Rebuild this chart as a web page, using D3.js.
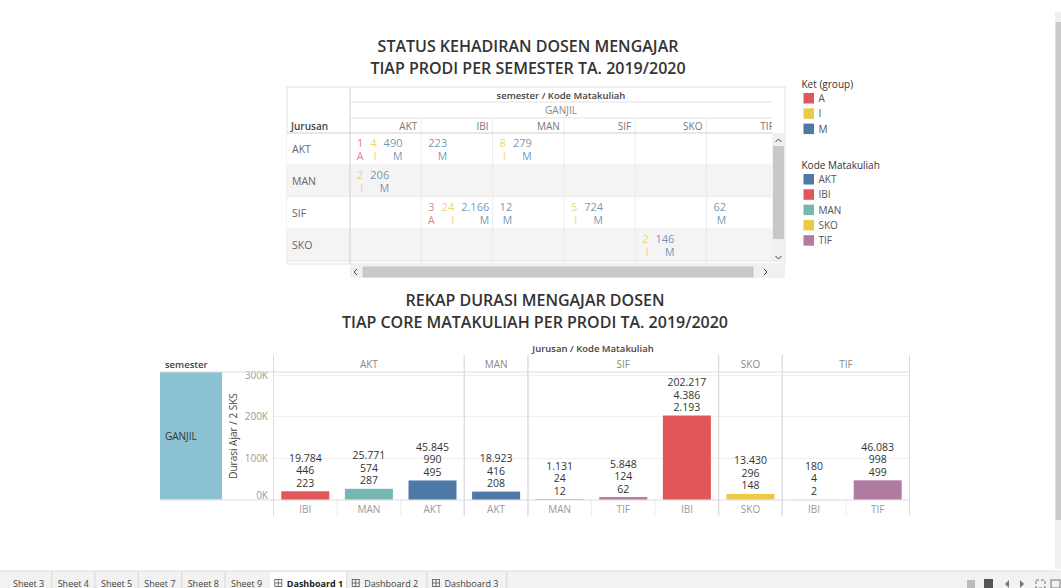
<!DOCTYPE html>
<html>
<head>
<meta charset="utf-8">
<script src="https://cdn.jsdelivr.net/npm/d3@7"></script>
<style>
  body { margin: 0; background: #fff; }
  svg { display: block; font-family: "Open Sans", "Noto Sans", sans-serif; }
</style>
</head>
<body>
<div id="dash"></div>
<script>
// ---- crosstab: status kehadiran ----
var rowJurusan = ["AKT", "MAN", "SIF", "SKO"];
var colKode = ["AKT", "IBI", "MAN", "SIF", "SKO", "TIF"];
var ketGroups = ["A", "I", "M"];
var hadirJurusan = ["AKT","AKT","AKT","AKT","AKT","AKT","MAN","MAN","SIF","SIF","SIF","SIF","SIF","SIF","SIF","SKO","SKO"];
var hadirKode    = ["AKT","AKT","AKT","IBI","MAN","MAN","AKT","AKT","IBI","IBI","IBI","MAN","SIF","SIF","TIF","SKO","SKO"];
var hadirKet     = ["A","I","M","M","I","M","I","M","A","I","M","M","I","M","M","I","M"];
var hadirJumlah  = [1,4,490,223,8,279,2,206,3,24,2166,12,5,724,62,2,146];

// ---- bar chart: rekap durasi ----
var barJurusan = ["AKT","AKT","AKT","MAN","SIF","SIF","SIF","SKO","TIF","TIF"];
var barKode    = ["IBI","MAN","AKT","AKT","MAN","TIF","IBI","SKO","IBI","TIF"];
var durasiAjar = [19784,25771,45845,18923,1131,5848,202217,13430,180,46083];
var jumlahSks  = [446,574,990,416,24,124,4386,296,4,998];
var jumlahTemu = [223,287,495,208,12,62,2193,148,2,499];
var yTicks = [0, 100000, 200000, 300000];
var kodeList = ["AKT", "IBI", "MAN", "SKO", "TIF"];

var sheetTabs = ["Sheet 3","Sheet 4","Sheet 5","Sheet 7","Sheet 8","Sheet 9","Dashboard 1","Dashboard 2","Dashboard 3"];

var ketColor = d3.scaleOrdinal().domain(ketGroups).range(["#E15759", "#EDC948", "#4E79A7"]);
var kodeColor = d3.scaleOrdinal().domain(kodeList).range(["#4E79A7", "#E15759", "#76B7B2", "#EDC948", "#B07AA1"]);
var idFormat = d3.formatLocale({decimal: ",", thousands: ".", grouping: [3], currency: ["Rp", ""]}).format(",d");

var W = 1061, H = 588;
var svg = d3.select("#dash").append("svg").attr("width", W).attr("height", H);

// titles
function title(lines, cx, y0) {
  lines.forEach(function(t, i) {
    svg.append("text").attr("x", cx).attr("y", y0 + i * 22)
      .attr("text-anchor", "middle").attr("font-size", 16).attr("font-weight", 600).attr("fill", "#333").text(t);
  });
}
title(["STATUS KEHADIRAN DOSEN MENGAJAR", "TIAP PRODI PER SEMESTER TA. 2019/2020"], 528, 52);
title(["REKAP DURASI MENGAJAR DOSEN", "TIAP CORE MATAKULIAH PER PRODI TA. 2019/2020"], 535, 306);

// ================= crosstab =================
var ct = svg.append("g");
var ctLeft = 287, ctRight = 785, ctTop = 87, ctBottom = 264;
var bodyLeft = 350, bodyRight = 772, bodyTop = 133;
var colX = d3.scaleBand().domain(colKode).range([350, 350 + 71.3 * 6]);
var rowY = d3.scaleBand().domain(rowJurusan).range([bodyTop, bodyTop + 32 * 4]);

var clip = svg.append("clipPath").attr("id", "ctclip");
clip.append("rect").attr("x", bodyLeft).attr("y", ctTop).attr("width", bodyRight - bodyLeft).attr("height", ctBottom - ctTop);

ct.append("rect").attr("x", ctLeft).attr("y", ctTop).attr("width", ctRight - ctLeft).attr("height", ctBottom - ctTop)
  .attr("fill", "#fff").attr("stroke", "#e2e2e2");

// row bands
rowJurusan.forEach(function(r, i) {
  ct.append("rect").attr("x", ctLeft).attr("y", rowY(r)).attr("width", bodyRight - ctLeft).attr("height", rowY.bandwidth())
    .attr("fill", i % 2 ? "#f4f4f4" : "#fff");
  ct.append("line").attr("x1", ctLeft).attr("x2", bodyRight).attr("y1", rowY(r) + rowY.bandwidth()).attr("y2", rowY(r) + rowY.bandwidth())
    .attr("stroke", "#e6e6e6");
  ct.append("text").attr("x", ctLeft + 5).attr("y", rowY(r) + rowY.bandwidth() / 2 + 4)
    .attr("font-size", 10.5).attr("fill", "#666").text(r);
});

var ctBody = ct.append("g").attr("clip-path", "url(#ctclip)");
colKode.forEach(function(c) {
  ctBody.append("line").attr("x1", colX(c) + colX.bandwidth()).attr("x2", colX(c) + colX.bandwidth())
    .attr("y1", 118).attr("y2", ctBottom).attr("stroke", "#ececec");
  ctBody.append("text").attr("x", colX(c) + colX.bandwidth() - 4).attr("y", 129.5)
    .attr("text-anchor", "end").attr("font-size", 10).attr("fill", "#777").text(c);
});

// header lines
ct.append("line").attr("x1", bodyLeft).attr("x2", bodyRight).attr("y1", 102).attr("y2", 102).attr("stroke", "#e2e2e2");
ct.append("line").attr("x1", bodyLeft).attr("x2", bodyRight).attr("y1", 118).attr("y2", 118).attr("stroke", "#e2e2e2");
ct.append("line").attr("x1", ctLeft).attr("x2", bodyRight).attr("y1", bodyTop).attr("y2", bodyTop).attr("stroke", "#d0d0d0");
ct.append("line").attr("x1", bodyLeft).attr("x2", bodyLeft).attr("y1", ctTop).attr("y2", ctBottom).attr("stroke", "#d0d0d0");

ct.append("text").attr("x", 561).attr("y", 98.5).attr("text-anchor", "middle")
  .attr("font-size", 9.5).attr("font-weight", 600).attr("fill", "#444").text("semester / Kode Matakuliah");
ct.append("text").attr("x", 561).attr("y", 114).attr("text-anchor", "middle")
  .attr("font-size", 10).attr("fill", "#888").text("GANJIL");
ct.append("text").attr("x", ctLeft + 4).attr("y", 129.5)
  .attr("font-size", 10).attr("font-weight", 600).attr("fill", "#444").text("Jurusan");

// cell marks: number on top, ket letter below, flowing left to right
var cells = d3.groups(d3.range(hadirJumlah.length), function(i) { return hadirJurusan[i] + "|" + hadirKode[i]; });
cells.forEach(function(cell) {
  var idx = cell[1];
  var r = hadirJurusan[idx[0]], c = hadirKode[idx[0]];
  var x = colX(c) + 7;
  idx.forEach(function(i) {
    var col = ketColor(hadirKet[i]);
    var num = ctBody.append("text").attr("x", x).attr("y", rowY(r) + 14)
      .attr("font-size", 11).attr("fill", col).attr("fill-opacity", 0.8).text(idFormat(hadirJumlah[i]));
    var w = num.node().getComputedTextLength();
    ctBody.append("text").attr("x", x + w).attr("y", rowY(r) + 26.5).attr("text-anchor", "end")
      .attr("font-size", 10.5).attr("fill", col).attr("fill-opacity", 0.8).text(hadirKet[i]);
    x += w + 7;
  });
});

// crosstab scrollbars
ct.append("rect").attr("x", 772).attr("y", bodyTop).attr("width", 13).attr("height", 129).attr("fill", "#f0f0f0");
ct.append("rect").attr("x", 773).attr("y", 146).attr("width", 11).attr("height", 93).attr("fill", "#c8c8c8");
ct.append("path").attr("d", "M775.5,142 L778.5,139 L781.5,142").attr("fill", "none").attr("stroke", "#444");
ct.append("path").attr("d", "M775.5,256 L778.5,259 L781.5,256").attr("fill", "none").attr("stroke", "#444");
ct.append("rect").attr("x", bodyLeft).attr("y", 265).attr("width", 435).attr("height", 13).attr("fill", "#f0f0f0");
ct.append("rect").attr("x", 362.5).attr("y", 266.5).attr("width", 391).attr("height", 11).attr("fill", "#c8c8c8");
ct.append("path").attr("d", "M357,269 L354,272 L357,275").attr("fill", "none").attr("stroke", "#444");
ct.append("path").attr("d", "M764,269 L767,272 L764,275").attr("fill", "none").attr("stroke", "#444");

// ================= legends =================
function legend(titleText, keys, scale, x, y) {
  var g = svg.append("g").attr("transform", "translate(" + x + "," + y + ")");
  g.append("text").attr("x", 0).attr("y", 0).attr("font-size", 10).attr("fill", "#333").text(titleText);
  keys.forEach(function(k, i) {
    g.append("rect").attr("x", 2).attr("y", 5 + i * 15.3).attr("width", 10.5).attr("height", 10.5).attr("fill", scale(k));
    g.append("text").attr("x", 17).attr("y", 14 + i * 15.3).attr("font-size", 10).attr("fill", "#555").text(k);
  });
}
legend("Ket (group)", ketGroups, ketColor, 801.5, 88);
legend("Kode Matakuliah", kodeList, kodeColor, 801.5, 169);

// ================= bar chart =================
var keys = d3.range(durasiAjar.length).map(function(i) { return barJurusan[i] + "/" + barKode[i]; });
var x = d3.scaleBand().domain(keys).range([273.5, 909.5]).paddingInner(0.245).paddingOuter(0.1225);
var y = d3.scaleLinear().domain([0, 307000]).range([499.5, 372]);
var bc = svg.append("g");

bc.append("text").attr("x", 593).attr("y", 352).attr("text-anchor", "middle")
  .attr("font-size", 9.5).attr("font-weight", 600).attr("fill", "#444").text("Jurusan / Kode Matakuliah");
bc.append("text").attr("x", 165).attr("y", 367.5)
  .attr("font-size", 9.5).attr("font-weight", 600).attr("fill", "#444").text("semester");

// semester cell
bc.append("rect").attr("x", 160).attr("y", 372).attr("width", 62).attr("height", 127.5).attr("fill", "#8CC3D3");
bc.append("text").attr("x", 165).attr("y", 440).attr("font-size", 10).attr("fill", "#333").text("GANJIL");

// gridlines
bc.append("g").selectAll("line").data(yTicks.slice(1)).join("line")
  .attr("x1", 273.5).attr("x2", 909.5).attr("y1", function(d) { return Math.round(y(d)) + 0.5; })
  .attr("y2", function(d) { return Math.round(y(d)) + 0.5; }).attr("stroke", "#efefef");

// y axis
var yAxis = bc.append("g").attr("transform", "translate(270,0)")
  .call(d3.axisLeft(y).tickValues(yTicks).tickSize(0).tickPadding(2).tickFormat(function(d) { return d / 1000 + "K"; }));
yAxis.select(".domain").remove();
yAxis.selectAll("text").attr("font-size", 10).attr("fill", "#999").attr("font-family", "Open Sans, sans-serif");
yAxis.selectAll(".tick").filter(function(d) { return d === 0; }).select("text").attr("dy", "-0.15em");
bc.append("text").attr("transform", "translate(237,436) rotate(-90)").attr("text-anchor", "middle")
  .attr("font-size", 10).attr("fill", "#444").text("Durasi Ajar / 2 SKS");

// panel dividers by jurusan
var panels = d3.groups(d3.range(keys.length), function(i) { return barJurusan[i]; });
panels.forEach(function(p) {
  var first = keys[p[1][0]], last = keys[p[1][p[1].length - 1]];
  var x0 = x(first) - x.step() * x.paddingInner() / 2;
  var x1 = x(last) + x.bandwidth() + x.step() * x.paddingInner() / 2;
  bc.append("text").attr("x", (x0 + x1) / 2).attr("y", 367.5).attr("text-anchor", "middle")
    .attr("font-size", 10).attr("fill", "#888").text(p[0]);
  [x0, x1].forEach(function(v) {
    bc.append("line").attr("x1", v).attr("x2", v).attr("y1", 355).attr("y2", 516).attr("stroke", "#dcdcdc");
  });
  p[1].slice(1).forEach(function(i) {
    var v = x(keys[i]) - x.step() * x.paddingInner() / 2;
    bc.append("line").attr("x1", v).attr("x2", v).attr("y1", 500).attr("y2", 516).attr("stroke", "#f0f0f0");
  });
});

bc.append("line").attr("x1", 160).attr("x2", 910).attr("y1", 372).attr("y2", 372).attr("stroke", "#dcdcdc");
bc.append("line").attr("x1", 160).attr("x2", 910).attr("y1", 500).attr("y2", 500).attr("stroke", "#dcdcdc");

// bars
bc.append("g").selectAll("rect").data(keys).join("rect")
  .attr("x", function(d) { return x(d); })
  .attr("width", x.bandwidth())
  .attr("y", function(d, i) { return y(durasiAjar[i]); })
  .attr("height", function(d, i) { return y(0) - y(durasiAjar[i]); })
  .attr("fill", function(d, i) { return kodeColor(barKode[i]); });

// bar labels
keys.forEach(function(k, i) {
  var cx = x(k) + x.bandwidth() / 2, top = y(durasiAjar[i]);
  [durasiAjar[i], jumlahSks[i], jumlahTemu[i]].forEach(function(v, j) {
    bc.append("text").attr("x", cx).attr("y", top - 4.5 - (2 - j) * 12.5).attr("text-anchor", "middle")
      .attr("font-size", 10.5).attr("fill", "#333").text(idFormat(v));
  });
  bc.append("text").attr("x", cx).attr("y", 513).attr("text-anchor", "middle")
    .attr("font-size", 10).attr("fill", "#999").text(barKode[i]);
});

// ================= page chrome =================
svg.append("rect").attr("x", 1055).attr("y", 12).attr("width", 6).attr("height", 557).attr("fill", "#f0f0f0");
svg.append("rect").attr("x", 1055.5).attr("y", 22).attr("width", 5.5).attr("height", 498).attr("fill", "#cbcbcb");

var tabs = svg.append("g");
tabs.append("rect").attr("x", 0).attr("y", 571).attr("width", W).attr("height", 17).attr("fill", "#f2f2f2");
tabs.append("line").attr("x1", 0).attr("x2", W).attr("y1", 571).attr("y2", 571).attr("stroke", "#dedede");
var tabEdges = [7, 51.7, 95, 138.3, 181.7, 225, 269.3, 346.7, 427, 506.7];
sheetTabs.forEach(function(t, i) {
  var x0 = tabEdges[i], x1 = tabEdges[i + 1];
  var isDash = t.indexOf("Dashboard") === 0, active = t === "Dashboard 1";
  if (active) tabs.append("rect").attr("x", x0).attr("y", 572).attr("width", x1 - x0).attr("height", 16).attr("fill", "#fff");
  tabs.append("line").attr("x1", x1).attr("x2", x1).attr("y1", 572).attr("y2", 588).attr("stroke", "#d6d6d6");
  var tx = x0 + 6;
  if (isDash) {
    var ic = tabs.append("g").attr("transform", "translate(" + (x0 + 5.5) + ",579.5)");
    ic.append("rect").attr("width", 7).attr("height", 7).attr("fill", "none").attr("stroke", "#555").attr("stroke-width", 0.8);
    ic.append("line").attr("x1", 3.5).attr("x2", 3.5).attr("y1", 0).attr("y2", 7).attr("stroke", "#555").attr("stroke-width", 0.8);
    ic.append("line").attr("x1", 0).attr("x2", 7).attr("y1", 3.5).attr("y2", 3.5).attr("stroke", "#555").attr("stroke-width", 0.8);
    tx = x0 + 17.5;
  }
  tabs.append("text").attr("x", tx).attr("y", 586.5).attr("font-size", 9)
    .attr("font-weight", active ? "bold" : "normal").attr("fill", active ? "#222" : "#444").text(t);
});
tabs.append("rect").attr("x", 967).attr("y", 580).attr("width", 8).attr("height", 8).attr("fill", "#bbb");
tabs.append("rect").attr("x", 984).attr("y", 579).attr("width", 9).attr("height", 9).attr("fill", "#555");
tabs.append("path").attr("d", "M1009,580 L1005,584 L1009,588 Z").attr("fill", "#777");
tabs.append("path").attr("d", "M1020,580 L1024,584 L1020,588 Z").attr("fill", "#777");
tabs.append("rect").attr("x", 1036).attr("y", 580).attr("width", 9).attr("height", 8).attr("fill", "none").attr("stroke", "#777").attr("stroke-dasharray", "3,2");
tabs.append("rect").attr("x", 1051).attr("y", 580).attr("width", 9).attr("height", 8).attr("fill", "none").attr("stroke", "#777");
</script>
</body>
</html>
